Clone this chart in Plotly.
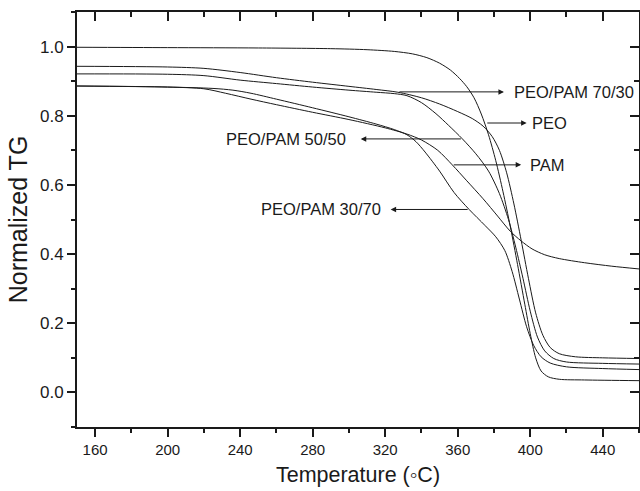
import plotly.graph_objects as go

# ---- data ----
peo_x = [150, 200, 250, 290, 310, 325, 335, 343, 350, 356, 361, 365, 369, 373, 377, 381, 385, 389, 393, 397, 400, 403, 406, 410, 416, 430, 460]
peo_y = [0.998, 0.997, 0.996, 0.994, 0.991, 0.986, 0.979, 0.968, 0.952, 0.932, 0.908, 0.884, 0.852, 0.805, 0.745, 0.67, 0.58, 0.48, 0.37, 0.255, 0.17, 0.10, 0.062, 0.045, 0.038, 0.036, 0.034]

p7030_x = [150, 200, 220, 240, 260, 280, 300, 315, 327, 340, 350, 360, 368, 374, 379, 383, 387, 391, 395, 399, 403, 407, 411, 416, 425, 440, 460]
p7030_y = [0.943, 0.941, 0.937, 0.925, 0.91, 0.897, 0.885, 0.876, 0.868, 0.852, 0.834, 0.812, 0.792, 0.77, 0.74, 0.70, 0.635, 0.545, 0.44, 0.33, 0.23, 0.165, 0.13, 0.112, 0.103, 0.10, 0.098]

p5050_x = [150, 200, 220, 240, 260, 280, 300, 315, 325, 332, 340, 348, 355, 362.6, 370, 377, 383, 388, 392, 396, 400, 404, 408, 413, 420, 440, 460]
p5050_y = [0.921, 0.92, 0.916, 0.903, 0.893, 0.883, 0.874, 0.868, 0.864, 0.858, 0.838, 0.806, 0.772, 0.733, 0.69, 0.64, 0.575, 0.50, 0.42, 0.33, 0.235, 0.16, 0.12, 0.098, 0.088, 0.084, 0.082]

pam_x = [150, 200, 220, 232, 246, 260, 280, 300, 320, 332, 340, 349, 357, 365, 374, 382, 389, 395, 401, 408, 416, 430, 445, 460]
pam_y = [0.886, 0.883, 0.878, 0.865, 0.848, 0.832, 0.81, 0.789, 0.765, 0.747, 0.73, 0.70, 0.658, 0.612, 0.56, 0.51, 0.466, 0.438, 0.415, 0.398, 0.387, 0.375, 0.365, 0.357]

p3070_x = [150, 200, 225, 236, 246, 260, 280, 300, 315, 325, 332, 337, 342, 350, 358, 366.3, 375, 381, 386, 390, 394, 398, 402, 406, 411, 420, 440, 460]
p3070_y = [0.886, 0.883, 0.879, 0.874, 0.865, 0.848, 0.823, 0.797, 0.776, 0.76, 0.745, 0.725, 0.695, 0.64, 0.578, 0.529, 0.483, 0.45, 0.41, 0.35, 0.27, 0.19, 0.135, 0.103, 0.085, 0.074, 0.069, 0.066]

series = [
    ("PEO", peo_x, peo_y),
    ("PEO/PAM 70/30", p7030_x, p7030_y),
    ("PEO/PAM 50/50", p5050_x, p5050_y),
    ("PAM", pam_x, pam_y),
    ("PEO/PAM 30/70", p3070_x, p3070_y),
]

# labels: (text, text x, text y, anchor, arrow head x, arrow tail x)
labels = [
    ("PEO/PAM 70/30", 390.0, 0.869, "left", 385.5, 327.0),
    ("PEO", 400.0, 0.779, "left", 398.0, 375.5),
    ("PEO/PAM 50/50", 299.5, 0.733, "right", 306.5, 362.6),
    ("PAM", 398.5, 0.658, "left", 395.0, 357.0),
    ("PEO/PAM 30/70", 319.0, 0.529, "right", 323.0, 366.3),
]

x_range = [150, 460]
y_range = [-0.1, 1.1]

FONT = "Liberation Sans, Arial, Helvetica, sans-serif"
INK = "#1a1a1a"

fig = go.Figure()
for name, xs, ys in series:
    fig.add_trace(go.Scatter(x=xs, y=ys, mode="lines", name=name,
                             line=dict(color=INK, width=1, shape="spline", smoothing=0.8),
                             showlegend=False, hoverinfo="skip"))

# helper invisible trace to activate the mirrored (top/right) axes
fig.add_trace(go.Scatter(x=x_range, y=y_range, xaxis="x2", yaxis="y2", mode="lines",
                         line=dict(width=0, color="rgba(0,0,0,0)"), showlegend=False, hoverinfo="skip"))

for text, tx, ty, anchor, hx, tailx in labels:
    fig.add_annotation(x=tx, y=ty, text=text, showarrow=False, xanchor=anchor, yanchor="middle",
                       font=dict(family=FONT, size=16.5, color=INK))
    fig.add_annotation(x=hx, y=ty, ax=tailx, ay=ty, axref="x", ayref="y", text="",
                       showarrow=True, arrowhead=2, arrowsize=1.1, arrowwidth=1, arrowcolor=INK)

axis_common = dict(showgrid=False, zeroline=False, showline=True, linecolor=INK, linewidth=1.8,
                   tickcolor=INK, tickwidth=1.5)

fig.update_layout(
    width=640, height=491,
    margin=dict(l=77, r=1, t=12, b=64),
    paper_bgcolor="white", plot_bgcolor="white",
    font=dict(family=FONT, color=INK),
    xaxis=dict(range=x_range, tick0=160, dtick=40, ticks="outside", ticklen=8,
               tickfont=dict(size=15), minor=dict(ticks="outside", ticklen=4, dtick=20, tick0=160,
                                                  tickcolor=INK, tickwidth=1.5),
               title=dict(text="Temperature (\u25e6C)", font=dict(size=21.5), standoff=10),
               **axis_common),
    yaxis=dict(range=y_range, tick0=0, dtick=0.2, tickformat=".1f", ticks="outside", ticklen=8,
               tickfont=dict(size=17), minor=dict(ticks="outside", ticklen=4, dtick=0.1, tick0=0,
                                                  tickcolor=INK, tickwidth=1.5),
               title=dict(text="Normalized TG", font=dict(size=25), standoff=5),
               **axis_common),
    xaxis2=dict(range=x_range, overlaying="x", side="top", tick0=160, dtick=40, ticks="inside",
                ticklen=9, showticklabels=False,
                minor=dict(ticks="inside", ticklen=5, dtick=20, tick0=160, tickcolor=INK, tickwidth=1.5),
                **axis_common),
    yaxis2=dict(range=y_range, overlaying="y", side="right", tick0=0, dtick=0.2, ticks="inside",
                ticklen=9, showticklabels=False,
                minor=dict(ticks="inside", ticklen=5, dtick=0.1, tick0=0, tickcolor=INK, tickwidth=1.5),
                **axis_common),
)

fig.write_html("out.html")
